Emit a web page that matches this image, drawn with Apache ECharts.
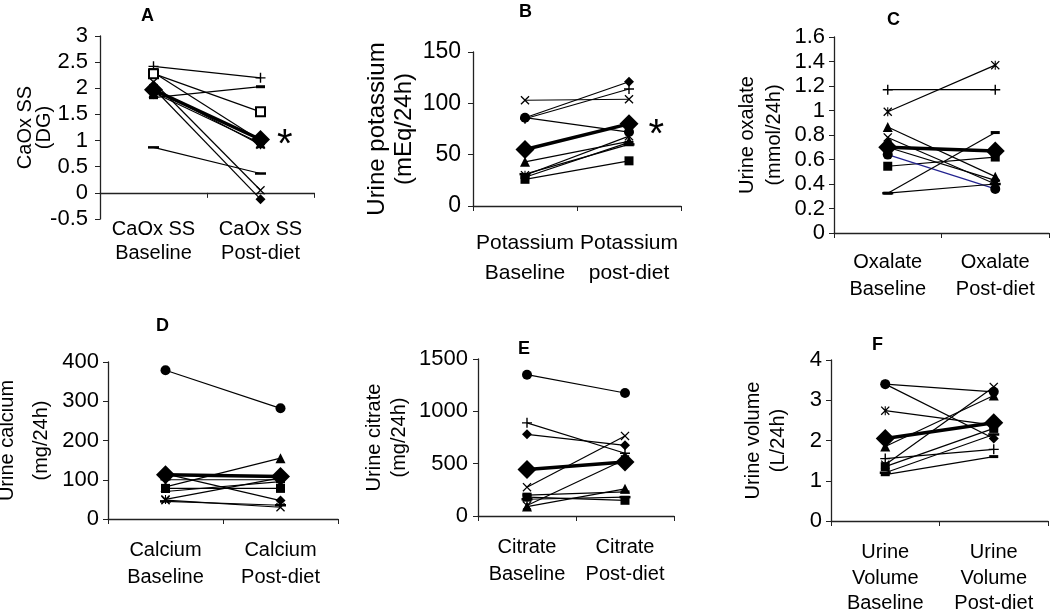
<!DOCTYPE html>
<html>
<head>
<meta charset="utf-8">
<title>Urine chemistry before and after diet</title>
<script src="https://cdn.jsdelivr.net/npm/echarts@6/dist/echarts.min.js"></script>
<style>
html, body { margin: 0; padding: 0; background: #fff; }
#main { width: 1050px; height: 610px; }
</style>
</head>
<body>
<div id="main"></div>
<script>
// values, one pair (baseline, post-diet) per subject
// subject order: diamond, square, triangle, x, star, circle, plus, dash, long dash, open square
const catsA = ['CaOx SS\nBaseline', 'CaOx SS\nPost-diet']
const baseA = [2.00, 2.30, 1.92, 2.12, 2.00, 1.98, 2.42, 1.82, 0.87, 2.28]
const postA = [-0.12, 1.00, 0.95, 0.05, 0.92, 1.02, 2.20, 2.03, 0.37, 1.55]
const meanA = [1.97, 1.02]

const catsB = ['Potassium\nBaseline', 'Potassium\npost-diet']
const baseB = [86, 26, 43, 103, 30, 86, 85, 28, 31]
const postB = [121, 44, 63, 104, 68, 72, 114, 62, 60]
const meanB = [55, 80]

const catsC = ['Oxalate\nBaseline', 'Oxalate\nPost-diet']
const baseC = [0.70, 0.545, 0.865, 0.78, 0.99, 0.64, 1.17, 0.325, 0.325]
const postC = [0.43, 0.62, 0.46, 0.40, 1.37, 0.36, 1.17, 0.82, 0.40]
const meanC = [0.70, 0.67]

const catsD = ['Calcium\nBaseline', 'Calcium\nPost-diet']
const baseD = [115, 78, 82, 48, 50, 379, 100, 70, 45]
const postD = [47, 78, 155, 30, 105, 282, 100, 95, 35]
const meanD = [113, 108]

const catsE = ['Citrate\nBaseline', 'Citrate\nPost-diet']
const baseE = [780, 180, 90, 275, 100, 1350, 890, 200, 160]
const postE = [675, 150, 260, 765, 540, 1175, 600, 230, 180]
const meanE = [445, 515]

const catsF = ['Urine\nVolume\nBaseline', 'Urine\nVolume\nPost-diet']
const baseF = [3.40, 1.35, 1.85, 1.40, 2.74, 3.40, 1.55, 1.15, 1.20]
const postF = [2.05, 2.30, 3.12, 3.33, 2.38, 3.21, 1.78, 1.60, 2.15]
const meanF = [2.05, 2.44]

// look of the markers (not data)
const X_PATH = 'path://M0,1L1,0L5,4L9,0L10,1L6,5L10,9L9,10L5,6L1,10L0,9L4,5Z'
const STAR_PATH = X_PATH + 'M4.4,0L5.6,0L5.6,10L4.4,10Z'
const PLUS_PATH = 'path://M4.3,0L5.7,0L5.7,4.3L10,4.3L10,5.7L5.7,5.7L5.7,10L4.3,10L4.3,5.7L0,5.7L0,4.3L4.3,4.3Z'
const markers = [
  { symbol: 'diamond', size: 10 },
  { symbol: 'rect', size: 9 },
  { symbol: 'triangle', size: 10 },
  { symbol: X_PATH, size: 9 },
  { symbol: STAR_PATH, size: 9 },
  { symbol: 'circle', size: 10 },
  { symbol: PLUS_PATH, size: 10 },
  { symbol: 'rect', size: [9, 3] },
  { symbol: 'rect', size: [11, 2.5] },
  { symbol: 'emptyRect', size: 9 }
]

const FONT = '"Liberation Sans", Arial, sans-serif'

const panels = [
  { t: 'A', cats: catsA, base: baseA, post: postA, mean: meanA, name: 'CaOx SS\n(DG)',
    left: 100, top: 36, width: 214, height: 183, min: -0.5, max: 3, interval: 0.5,
    nameGap: 46, nameLH: 19, labelMargin: -2, labelLH: 24, tickMargin: 12, tx: 141, ty: 6, star: [7, 6] },
  { t: 'B', cats: catsB, base: baseB, post: postB, mean: meanB, name: 'Urine potassium\n(mEq/24h)',
    left: 473, top: 52, width: 208, height: 154, min: 0, max: 150, interval: 50,
    nameGap: 55, nameLH: 27, labelMargin: 22, labelLH: 30, tickMargin: 12, tx: 519, ty: 2, star: [10, 12], big: true },
  { t: 'C', cats: catsC, base: baseC, post: postC, mean: meanC, name: 'Urine oxalate\n(mmol/24h)',
    left: 834, top: 37, width: 215, height: 196, min: 0, max: 1.6, interval: 0.2,
    nameGap: 46, nameLH: 27, labelMargin: 16, labelLH: 27, tickMargin: 9, tx: 887, ty: 10, blue: 5 },
  { t: 'D', cats: catsD, base: baseD, post: postD, mean: meanD, name: 'Urine calcium\n(mg/24h)',
    left: 108, top: 362, width: 230, height: 157, min: 0, max: 400, interval: 100,
    nameGap: 50, nameLH: 34, labelMargin: 18, labelLH: 27, tickMargin: 9, tx: 156, ty: 316 },
  { t: 'E', cats: catsE, base: baseE, post: postE, mean: meanE, name: 'Urine citrate\n(mg/24h)',
    left: 478, top: 359, width: 196, height: 157, min: 0, max: 1500, interval: 500,
    nameGap: 66, nameLH: 25, labelMargin: 18, labelLH: 27, tickMargin: 10, tx: 518, ty: 339 },
  { t: 'F', cats: catsF, base: baseF, post: postF, mean: meanF, name: 'Urine volume\n(L/24h)',
    left: 831, top: 360, width: 217, height: 161, min: 0, max: 4, interval: 1,
    nameGap: 40, nameLH: 25, labelMargin: 19, labelLH: 25.5, tickMargin: 9, tx: 872, ty: 335 }
]

const axisColor = '#222'
let grid = []
let xAxis = []
let yAxis = []
let series = []
let title = []

panels.forEach((p, gi) => {
  const fs = p.big ? 21 : 20
  grid.push({
    left: p.left, top: p.top, width: p.width, height: p.height,
    containLabel: false, outerBoundsMode: 'none'
  })
  title.push({
    text: p.t, left: p.tx, top: p.ty, padding: 0,
    textStyle: { fontFamily: FONT, fontSize: 18, fontWeight: 'bold', color: '#000', lineHeight: 20 }
  })
  const catLabel = {
    fontFamily: FONT, fontSize: fs, color: '#000', margin: p.labelMargin,
    lineHeight: p.labelLH, interval: 0, hideOverlap: false
  }
  const xi = xAxis.length
  if (p.min < 0) {
    // labels sit under the plot, the axis line crosses at zero
    xAxis.push({
      type: 'category', gridIndex: gi, data: p.cats, position: 'bottom',
      axisLine: { show: false, onZero: false }, axisTick: { show: false },
      axisLabel: catLabel
    })
    xAxis.push({
      type: 'category', gridIndex: gi, data: p.cats, position: 'bottom',
      axisLine: { show: true, onZero: true, lineStyle: { color: axisColor, width: 1.3 } },
      axisTick: { show: true, length: 5, lineStyle: { color: axisColor } },
      axisLabel: { show: false }
    })
  } else {
    xAxis.push({
      type: 'category', gridIndex: gi, data: p.cats,
      axisLine: { lineStyle: { color: axisColor, width: 1.3 } },
      axisTick: { show: true, length: 5, lineStyle: { color: axisColor } },
      axisLabel: catLabel
    })
  }
  yAxis.push({
    type: 'value', gridIndex: gi, min: p.min, max: p.max, interval: p.interval,
    name: p.name, nameLocation: 'middle', nameGap: p.nameGap, nameMoveOverlap: false,
    nameTextStyle: { fontFamily: FONT, fontSize: p.big ? 24 : 20, color: '#000', lineHeight: p.nameLH, align: 'center' },
    axisLine: { show: true, lineStyle: { color: axisColor, width: 1.3 } },
    axisTick: { show: true, length: 5, lineStyle: { color: axisColor } },
    axisLabel: {
      fontFamily: FONT, fontSize: p.big ? 23 : 22, color: '#000', margin: p.tickMargin,
      formatter: v => String(+v.toFixed(2))
    },
    splitLine: { show: false }
  })
  p.base.forEach((b, i) => {
    const m = markers[i]
    series.push({
      type: 'line', xAxisIndex: xi, yAxisIndex: gi,
      data: [b, p.post[i]],
      symbol: m.symbol, symbolSize: m.size, showAllSymbol: true,
      lineStyle: { color: p.blue === i ? '#23238f' : '#000', width: 1.2 },
      itemStyle: { color: '#000' },
      z: 2, silent: true, animation: false
    })
  })
  const postPoint = { value: p.mean[1] }
  if (p.star) {
    postPoint.label = {
      show: true, formatter: '*', position: 'right', distance: p.star[0], offset: [0, p.star[1]],
      fontFamily: FONT, fontSize: 40, color: '#000'
    }
  }
  series.push({
    type: 'line', xAxisIndex: xi, yAxisIndex: gi,
    data: [p.mean[0], postPoint],
    symbol: 'diamond', symbolSize: 19, showAllSymbol: true,
    lineStyle: { color: '#000', width: 3.5 },
    itemStyle: { color: '#000' },
    z: 5, silent: true, animation: false
  })
})

let mycharts = echarts.init(document.getElementById('main'))
mycharts.setOption({
  backgroundColor: '#fff',
  animation: false,
  title: title,
  grid: grid,
  xAxis: xAxis,
  yAxis: yAxis,
  series: series
})
</script>
</body>
</html>
